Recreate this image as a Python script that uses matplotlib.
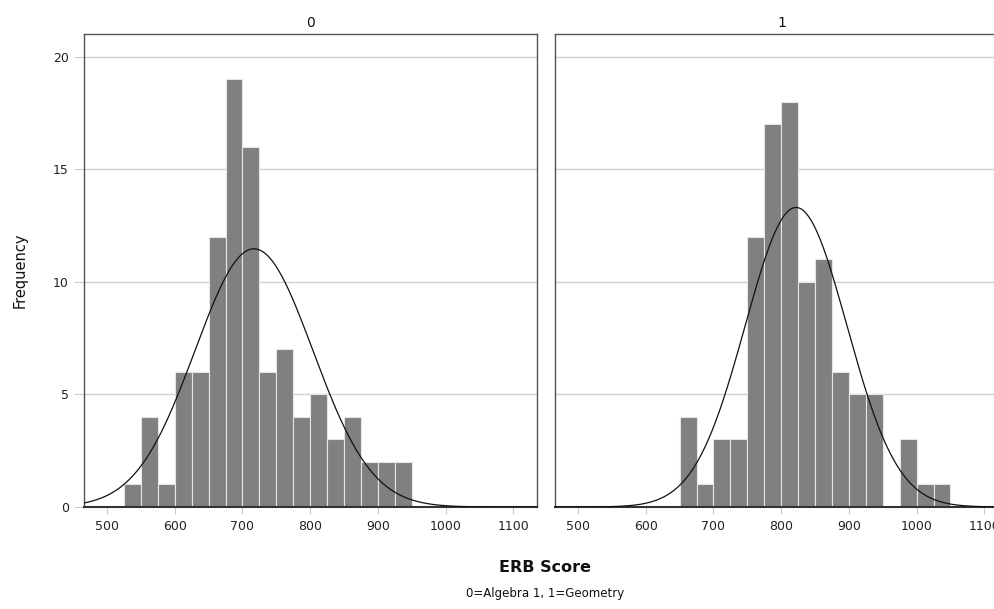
import numpy as np
import matplotlib
matplotlib.use('Agg')
import matplotlib.pyplot as plt

# histogram bins (width 25) and counts
bin_width = 25
left_start = 525
left_counts = [1, 4, 1, 6, 6, 12, 19, 16, 6, 7, 4, 5, 3, 4, 2, 2, 2]
right_start = 650
right_counts = [4, 1, 3, 3, 12, 17, 18, 10, 11, 6, 5, 5, 0, 3, 1, 1]

# fitted normal curve parameters (mean, sd) as drawn
left_fit = (717, 87)
right_fit = (822, 75)

panel_titles = ['0', '1']
x_ticks = [500, 600, 700, 800, 900, 1000, 1100]
y_ticks = [0, 5, 10, 15, 20]

plt.rcParams['font.family'] = ['DejaVu Sans']

W, H = 995, 609
fig = plt.figure(figsize=(W / 100, H / 100), dpi=100)

def axes_at(x0, x1, y0, y1):
  return fig.add_axes([x0 / W, 1 - y1 / H, (x1 - x0) / W, (y1 - y0) / H])

ax_left = axes_at(84, 537, 34, 507)
ax_right = axes_at(555, 1008, 34, 507)

def draw_panel(ax, start, counts, fit, title, show_y):
  edges = start + bin_width * np.arange(len(counts))
  ax.bar(edges, counts, width=bin_width, align='edge', color='#808080',
         edgecolor='#e6e6e6', linewidth=0.8, zorder=2)
  n = sum(counts)
  mu, sd = fit
  xs = np.linspace(465, 1140, 400)
  ys = n * bin_width / (sd * np.sqrt(2 * np.pi)) * np.exp(-0.5 * ((xs - mu) / sd) ** 2)
  ax.plot(xs, ys, color='#111111', linewidth=0.9, zorder=3)
  ax.set_xlim(466, 1135)
  ax.set_ylim(0, 21)
  ax.set_xticks(x_ticks)
  ax.set_yticks(y_ticks)
  ax.grid(axis='y', color='#d0d0d0', linewidth=1.0, zorder=0)
  ax.set_axisbelow(True)
  for side in ['left', 'top', 'right']:
    ax.spines[side].set_color('#555555')
    ax.spines[side].set_linewidth(1.0)
  ax.spines['bottom'].set_color('#333333')
  ax.spines['bottom'].set_linewidth(1.5)
  ax.tick_params(axis='x', length=5, color='#cccccc', labelsize=9,
                 labelcolor='#222222', pad=4)
  ax.tick_params(axis='y', length=7, color='#cccccc', labelsize=9,
                 labelcolor='#222222', pad=4)
  if not show_y:
    ax.tick_params(axis='y', length=0, labelleft=False)
  ax.set_title(title, fontsize=10, color='#111111', pad=5)

draw_panel(ax_left, left_start, left_counts, left_fit, panel_titles[0], True)
draw_panel(ax_right, right_start, right_counts, right_fit, panel_titles[1], False)

ax_left.set_ylabel('Frequency', fontsize=10.5, color='#111111', labelpad=18)

fig.text(545 / W, 1 - 567 / H, 'ERB Score', ha='center', va='center',
         fontsize=11.5, fontweight='bold', color='#111111')
fig.text(545 / W, 1 - 594 / H, '0=Algebra 1, 1=Geometry', ha='center',
         va='center', fontsize=8.5, color='#111111')

fig.savefig('out.png', dpi=100)
